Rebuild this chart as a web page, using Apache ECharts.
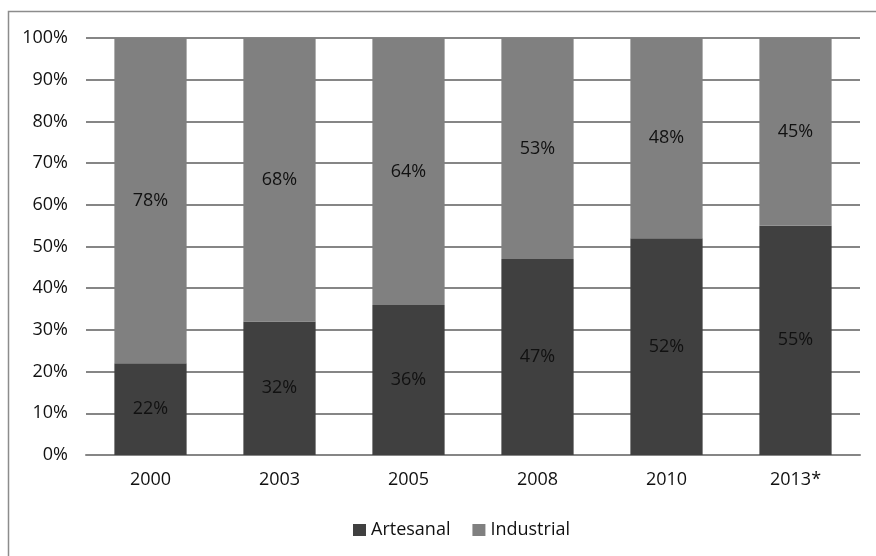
<!DOCTYPE html>
<html>
<head>
<meta charset="utf-8">
<script src="https://cdn.jsdelivr.net/npm/echarts@6/dist/echarts.min.js"></script>
<style>
  html, body { margin: 0; padding: 0; background: #fff; }
  #chart { width: 876px; height: 556px; }
</style>
</head>
<body>
<div id="chart"></div>
<script>
// Share of production by type, per year
const years = ['2000', '2003', '2005', '2008', '2010', '2013*'];
const artesanal = [22, 32, 36, 47, 52, 55];
const industrial = [78, 68, 64, 53, 48, 45];
const seriesNames = ['Artesanal', 'Industrial'];

const FONT = '"Open Sans", sans-serif';
const FS = 18;
const chart = echarts.init(document.getElementById('chart'));

const labelStyle = {
  show: true,
  position: 'inside',
  formatter: p => p.value + '%',
  color: '#111',
  fontSize: FS,
  fontFamily: FONT
};

chart.setOption({
  animation: false,
  backgroundColor: '#fff',
  graphic: [{
    type: 'rect',
    shape: { x: 8.5, y: 11.5, width: 880, height: 560 },
    style: { fill: 'none', stroke: '#8c8c8c', lineWidth: 1.5 },
    silent: true
  }],
  grid: { left: 86, right: 16, top: 38, bottom: 101 },
  legend: {
    top: 516,
    left: 348,
    itemWidth: 13,
    itemHeight: 12,
    itemGap: 22,
    icon: 'rect',
    textStyle: { color: '#111', fontSize: FS, fontFamily: FONT },
    data: seriesNames
  },
  xAxis: {
    type: 'category',
    data: years,
    axisLine: { show: true, lineStyle: { color: '#868686', width: 2 } },
    axisTick: { show: false },
    axisLabel: { color: '#111', fontSize: FS, margin: 16, fontFamily: FONT }
  },
  yAxis: {
    type: 'value',
    min: 0,
    max: 100,
    interval: 10,
    axisLine: { show: false },
    axisTick: { show: false },
    splitLine: { lineStyle: { color: '#868686', width: 2 } },
    axisLabel: {
      color: '#111', fontSize: FS, margin: 18,
      fontFamily: FONT,
      formatter: v => v + '%'
    }
  },
  series: [
    {
      name: seriesNames[0],
      type: 'bar',
      stack: 'total',
      data: artesanal,
      barWidth: '56%',
      itemStyle: { color: '#404040' },
      label: labelStyle
    },
    {
      name: seriesNames[1],
      type: 'bar',
      stack: 'total',
      data: industrial,
      barWidth: '56%',
      itemStyle: { color: '#808080' },
      label: labelStyle
    }
  ]
});
</script>
</body>
</html>
